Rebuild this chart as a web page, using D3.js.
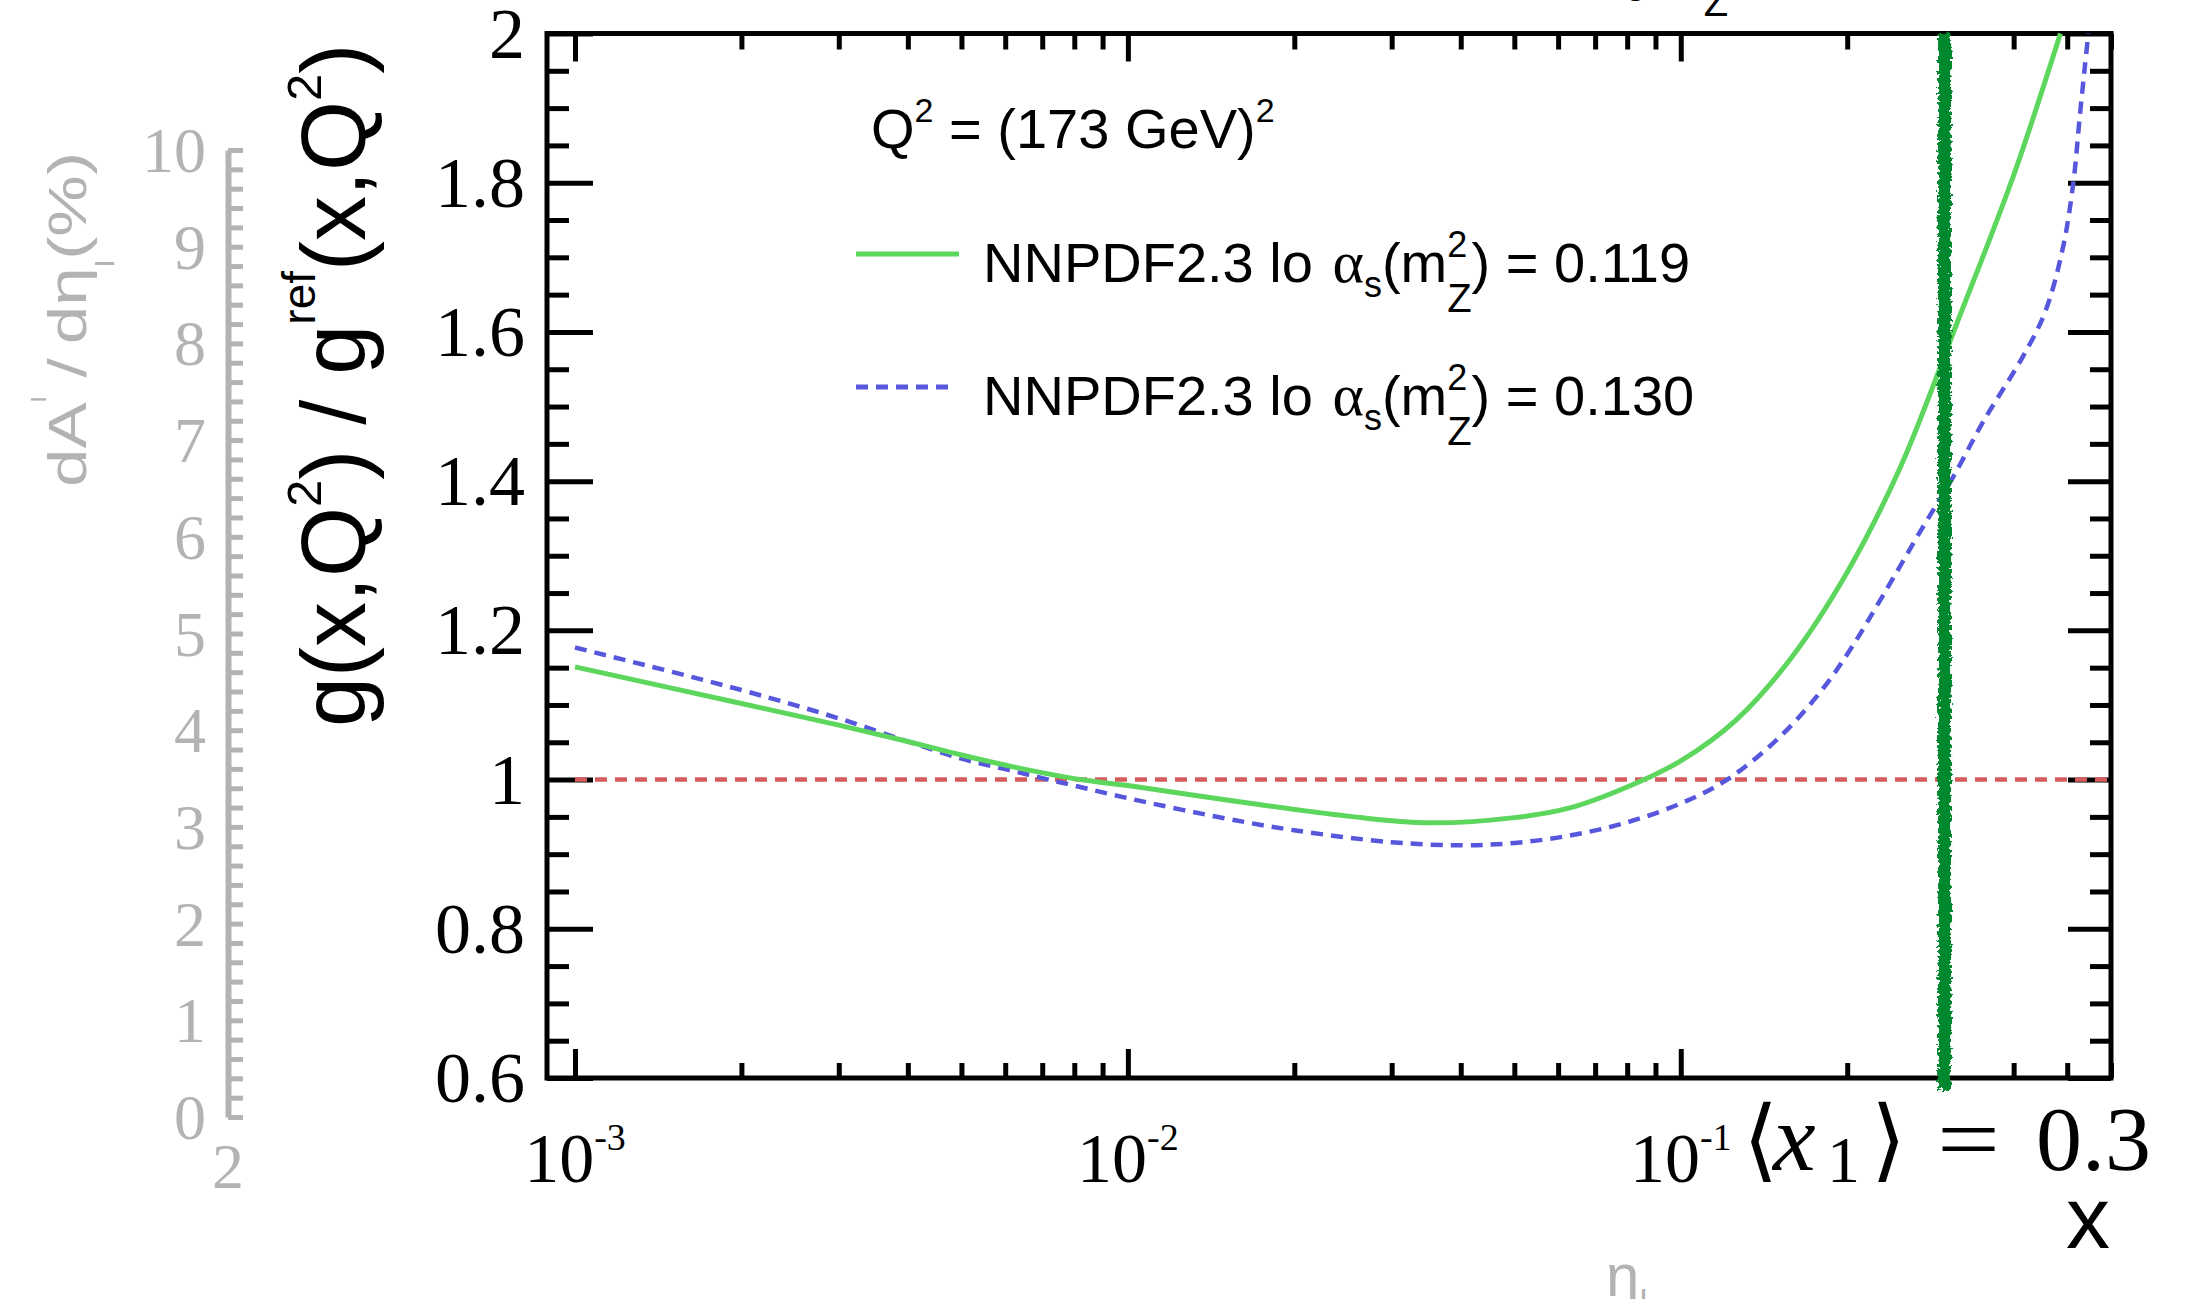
<!DOCTYPE html>
<html>
<head>
<meta charset="utf-8">
<script src="https://cdn.jsdelivr.net/npm/d3@7"></script>
<style>
  html, body { margin: 0; padding: 0; background: #fff; }
  svg { display: block; }
</style>
</head>
<body>
<svg></svg>
<script>
// frame range of x and of the gluon ratio
let xDomain = [0.00089, 0.6];
let yDomain = [0.6, 2];

// NNPDF2.3 lo, alpha_s(mZ^2) = 0.119
let xAs119 = [0.001, 0.002, 0.003, 0.004, 0.005, 0.0063, 0.0082, 0.01, 0.016, 0.025, 0.035, 0.05,
  0.063, 0.08, 0.1, 0.126, 0.158, 0.2, 0.25, 0.316, 0.4, 0.486];
let ratioAs119 = [1.151, 1.102, 1.073, 1.051, 1.033, 1.016, 1.000, 0.992, 0.970, 0.951, 0.942, 0.949,
  0.962, 0.990, 1.025, 1.080, 1.162, 1.278, 1.420, 1.612, 1.810, 2.000];

// NNPDF2.3 lo, alpha_s(mZ^2) = 0.130
let xAs130 = [0.001, 0.002, 0.003, 0.004, 0.005, 0.006, 0.007, 0.0082, 0.01, 0.015, 0.02, 0.03, 0.04,
  0.05, 0.063, 0.0794, 0.1, 0.1213, 0.15, 0.18, 0.2037, 0.2314, 0.2729, 0.3101, 0.3526, 0.4157,
  0.4556, 0.4902, 0.5129, 0.527, 0.538, 0.546];
let ratioAs130 = [1.177, 1.120, 1.082, 1.051, 1.028, 1.014, 1.002, 0.990, 0.975, 0.948, 0.932, 0.916, 0.912,
  0.915, 0.925, 0.942, 0.968, 1.000, 1.055, 1.120, 1.177, 1.245, 1.336, 1.404, 1.480, 1.567,
  1.626, 1.710, 1.800, 1.890, 1.955, 2.000];

// reference line and mean x marker
let refRange = [0.001, 0.6];
let refRatio = 1;
let xMean = 0.3;

// tick labels
let yTickLabels = [0.6, 0.8, 1, 1.2, 1.4, 1.6, 1.8, 2];
let xTickExponents = [-3, -2, -1];
let legendAlphas = ['0.119', '0.130'];

// faded axis left over from the plot underneath
let ghostDomain = [0, 10];
let ghostTickLabels = [0, 1, 2, 3, 4, 5, 6, 7, 8, 9, 10];

window.onload = function () {
  let width = 2189, height = 1299;
  let svg = d3.select('svg').attr('width', width).attr('height', height);

  let sans = 'Liberation Sans, Arial, Helvetica, sans-serif';
  let serif = 'Liberation Serif, Times New Roman, serif';
  let gray = '#b3b3b3';
  let nb = '\u00a0';

  let left = 547, right = 2111, top = 33.5, bottom = 1078;
  let x = d3.scaleLog().domain(xDomain).range([left, right]);
  let y = d3.scaleLinear().domain(yDomain).range([bottom, top]);
  let ghost = d3.scaleLinear().domain(ghostDomain).range([1117, 150]);

  // rough edge for the hand-drawn looking marker
  let defs = svg.append('defs');
  let rough = defs.append('filter').attr('id', 'rough').attr('filterUnits', 'userSpaceOnUse')
    .attr('x', 0).attr('y', 0).attr('width', width).attr('height', height);
  rough.append('feTurbulence').attr('type', 'fractalNoise').attr('baseFrequency', 0.3)
    .attr('numOctaves', 2).attr('seed', 4).attr('result', 'noise');
  rough.append('feDisplacementMap').attr('in', 'SourceGraphic').attr('in2', 'noise')
    .attr('scale', 9).attr('xChannelSelector', 'R').attr('yChannelSelector', 'G');

  // write a run of text pieces one after another, measuring each one
  function richText(parent, x0, y0, pieces, base) {
    let cursor = x0, lastStart = x0;
    pieces.forEach(function (p) {
      let start = p.stack ? lastStart : cursor + (p.gap || 0);
      let t = parent.append('text')
        .attr('x', start).attr('y', y0 + (p.shift || 0))
        .attr('font-family', p.family || base.family)
        .attr('font-size', p.size || base.size)
        .attr('font-style', p.italic ? 'italic' : null)
        .attr('fill', base.fill || '#000')
        .text(p.t);
      let w = t.node().getComputedTextLength();
      if (p.stack) {
        cursor = Math.max(cursor, start + w);
      } else {
        lastStart = start;
        cursor = start + w;
      }
    });
    return cursor - x0;
  }

  // ---- faded axis on the far left ----
  let ghostAxis = svg.append('g').attr('transform', 'translate(228,0)')
    .call(d3.axisRight(ghost).tickValues(ghost.ticks(50)).tickSize(15).tickSizeOuter(0).tickFormat(''));
  ghostAxis.select('.domain').attr('stroke', gray).attr('stroke-width', 6);
  ghostAxis.selectAll('line').attr('stroke', gray).attr('stroke-width', 5);

  svg.append('g').selectAll('text').data(ghostTickLabels).join('text')
    .attr('x', 206).attr('y', d => ghost(d) + 22)
    .attr('text-anchor', 'end').attr('font-family', serif).attr('font-size', 64)
    .attr('fill', gray).text(d => d);

  svg.append('text').attr('x', 228).attr('y', 1188).attr('text-anchor', 'middle')
    .attr('font-family', serif).attr('font-size', 64).attr('fill', gray).text('2');

  // stretched along its length, like in the original
  let ghostTitle = svg.append('g');
  let gLen = richText(ghostTitle, 0, 0, [
    { t: 'dA' },
    { t: 'l', size: 20, shift: -40 },
    { t: '\u2009/\u2009d\u03b7', gap: 4 },
    { t: 'l', size: 26, shift: 28 },
    { t: '(%)' }
  ], { family: sans, size: 54, fill: gray });
  ghostTitle.attr('transform', 'translate(86,487) rotate(-90) scale(' + (335 / gLen) + ',1)');

  // cut off title of the plot underneath, bottom edge
  richText(svg.append('g'), 1606, 1296, [
    { t: '\u03b7' },
    { t: 'l', size: 36, shift: 20 }
  ], { family: sans, size: 60, fill: gray });

  // cut off text at the top edge
  richText(svg.append('g'), 1596, -14, [
    { t: '\u03b1', family: serif, size: 58 },
    { t: 's', size: 36, shift: 15 },
    { t: '(m', gap: -6 },
    { t: '2', size: 36, shift: -25 },
    { t: 'Z', size: 40, shift: 30, stack: true },
    { t: ')' }
  ], { family: sans, size: 56 });

  // ---- frame and ticks ----
  function ticks(axisFn, scale, values, size, transform) {
    let g = svg.append('g').attr('transform', transform)
      .call(axisFn(scale).tickValues(values).tickSize(size).tickSizeOuter(0).tickFormat(''));
    g.select('.domain').remove();
    g.selectAll('line').attr('stroke', '#000').attr('stroke-width', 5);
  }
  let isDecade = v => Math.abs(Math.log10(v) - Math.round(Math.log10(v))) < 1e-9;
  let xAll = x.ticks().filter(v => v >= 0.001);
  let xMajor = xAll.filter(isDecade);
  let xMinor = xAll.filter(v => !isDecade(v));
  let yAll = y.ticks(28);
  let isMajorY = v => Math.abs(v * 5 - Math.round(v * 5)) < 1e-6;
  let yMajor = yAll.filter(isMajorY);
  let yMinor = yAll.filter(v => !isMajorY(v));

  ticks(d3.axisBottom, x, xMinor, -15, 'translate(0,' + bottom + ')');
  ticks(d3.axisBottom, x, xMajor, -29, 'translate(0,' + bottom + ')');
  ticks(d3.axisTop, x, xMinor, -16, 'translate(0,' + top + ')');
  ticks(d3.axisTop, x, xMajor, -28, 'translate(0,' + top + ')');
  ticks(d3.axisLeft, y, yMinor, -22, 'translate(' + left + ',0)');
  ticks(d3.axisLeft, y, yMajor, -46, 'translate(' + left + ',0)');
  ticks(d3.axisRight, y, yMinor, -21, 'translate(' + right + ',0)');
  ticks(d3.axisRight, y, yMajor, -43, 'translate(' + right + ',0)');

  svg.append('rect').attr('x', left).attr('y', top)
    .attr('width', right - left).attr('height', bottom - top)
    .attr('fill', 'none').attr('stroke', '#000').attr('stroke-width', 5);

  // y tick labels
  svg.append('g').selectAll('text').data(yTickLabels).join('text')
    .attr('x', 525).attr('y', d => y(d) + 24)
    .attr('text-anchor', 'end').attr('font-family', serif).attr('font-size', 72)
    .text(d => d);

  // x tick labels, 10^n
  xTickExponents.forEach(function (e) {
    let t = svg.append('text').attr('x', x(Math.pow(10, e))).attr('y', 1182)
      .attr('text-anchor', 'middle').attr('font-family', serif).attr('font-size', 70);
    t.append('tspan').text('10');
    t.append('tspan').attr('font-size', 38).attr('dy', -32).text('-' + Math.abs(e));
  });

  // axis titles
  let yTitle = svg.append('g').attr('transform', 'translate(365,727) rotate(-90)');
  richText(yTitle, 0, 0, [
    { t: 'g(x,Q' },
    { t: '2', size: 49, shift: -44 },
    { t: ')' + nb + '/' + nb + 'g' },
    { t: 'ref', size: 46, shift: -50 },
    { t: '(x,Q' },
    { t: '2', size: 49, shift: -44 },
    { t: ')' }
  ], { family: sans, size: 90 });

  svg.append('text').attr('x', 2110).attr('y', 1248).attr('text-anchor', 'end')
    .attr('font-family', sans).attr('font-size', 88).text('x');

  // ---- lines ----
  let line = d3.line().x(d => x(d[0])).y(d => y(d[1])).curve(d3.curveCatmullRom.alpha(0.5));

  svg.append('path')
    .attr('d', line(refRange.map(v => [v, refRatio])))
    .attr('fill', 'none').attr('stroke', '#d45c5c').attr('stroke-width', 4.5)
    .attr('stroke-dasharray', '12,8');

  svg.append('path')
    .attr('d', line(d3.zip(xAs130, ratioAs130)))
    .attr('fill', 'none').attr('stroke', '#5757dd').attr('stroke-width', 4.5)
    .attr('stroke-dasharray', '12,8');

  svg.append('path')
    .attr('d', line(d3.zip(xAs119, ratioAs119)))
    .attr('fill', 'none').attr('stroke', '#5cd65c').attr('stroke-width', 5);

  // ---- legend ----
  richText(svg.append('g'), 871, 148, [
    { t: 'Q' },
    { t: '2', size: 34, shift: -26 },
    { t: nb + '=' + nb + '(173' + nb + 'GeV)' },
    { t: '2', size: 34, shift: -26 }
  ], { family: sans, size: 56 });

  let legendStyles = [
    { color: '#5cd65c', dash: null, len: 103, lineY: 254, textY: 282 },
    { color: '#5757dd', dash: '12,8', len: 94, lineY: 387, textY: 415 }
  ];
  legendAlphas.forEach(function (a, i) {
    let s = legendStyles[i];
    svg.append('line').attr('x1', 856).attr('x2', 856 + s.len)
      .attr('y1', s.lineY).attr('y2', s.lineY)
      .attr('stroke', s.color).attr('stroke-width', 5).attr('stroke-dasharray', s.dash);
    richText(svg.append('g'), 983, s.textY, [
      { t: 'NNPDF2.3' + nb + 'lo' + nb },
      { t: '\u03b1', family: serif, size: 60, gap: 4 },
      { t: 's', size: 36, shift: 15 },
      { t: '(m' },
      { t: '2', size: 36, shift: -25 },
      { t: 'Z', size: 40, shift: 30, stack: true },
      { t: ')' + nb + '=' + nb + a }
    ], { family: sans, size: 56 });
  });

  // ---- mean x marker ----
  svg.append('path')
    .attr('d', 'M' + x(xMean) + ',' + y(yDomain[1]) + 'V' + (y(yDomain[0]) + 12))
    .attr('stroke', '#00882e').attr('stroke-width', 13).attr('fill', 'none')
    .attr('filter', 'url(#rough)');

  let mathFont = 'DejaVu Serif, Liberation Serif, serif';
  let meanLabel = svg.append('g');
  let mx = 1743, my = 1170;
  meanLabel.append('text').attr('x', mx).attr('y', my).attr('font-family', mathFont)
    .attr('font-size', 90).text('\u27e8');
  meanLabel.append('text').attr('x', mx + 30).attr('y', my).attr('font-family', serif)
    .attr('font-size', 96).attr('font-style', 'italic').text('x');
  meanLabel.append('text').attr('x', mx + 84).attr('y', my + 12).attr('font-family', serif)
    .attr('font-size', 66).text('1');
  meanLabel.append('text').attr('x', mx + 128).attr('y', my).attr('font-family', mathFont)
    .attr('font-size', 90).text('\u27e9');
  meanLabel.append('text').attr('x', mx + 194).attr('y', my).attr('font-family', serif)
    .attr('font-size', 90).attr('textLength', 63).attr('lengthAdjust', 'spacingAndGlyphs').text('=');
  meanLabel.append('text').attr('x', mx + 293).attr('y', my).attr('font-family', serif)
    .attr('font-size', 92).text('0.' + Math.round(xMean * 10));
};
</script>
</body>
</html>
